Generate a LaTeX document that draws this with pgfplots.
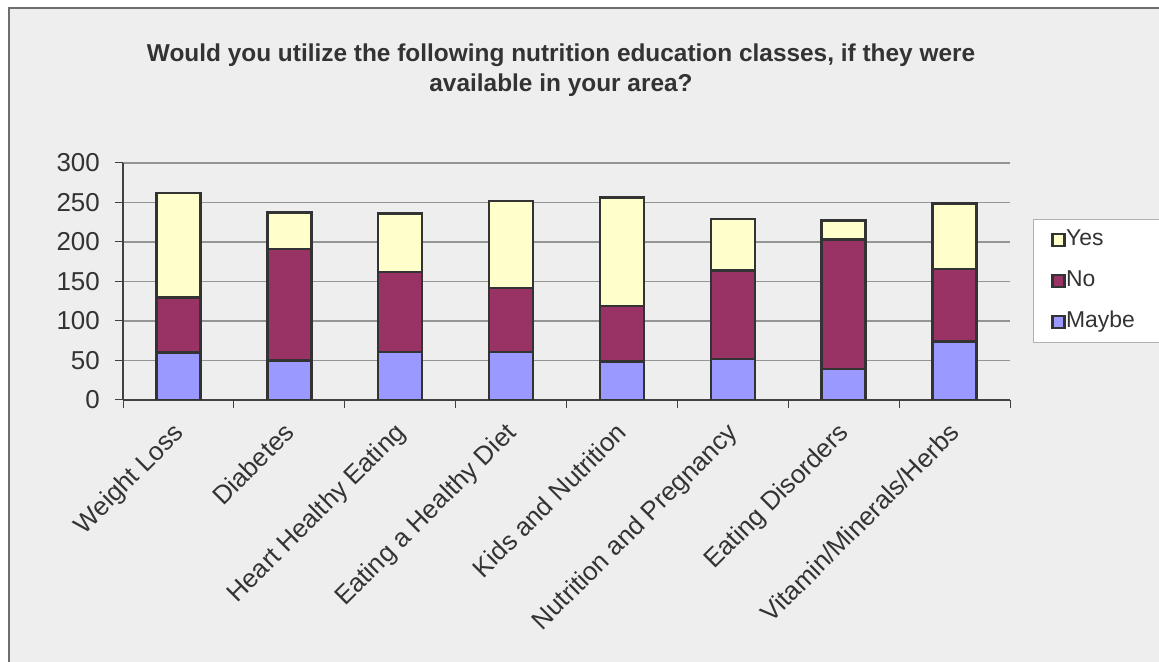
\documentclass[border=0pt]{standalone}
\usepackage{fontspec}
\setmainfont{Liberation Sans}
\usepackage{pgfplots}
\pgfplotsset{compat=1.18}
\definecolor{bgc}{HTML}{EEEEEE}
\definecolor{framec}{HTML}{6E6E6E}
\definecolor{maybec}{HTML}{9999FF}
\definecolor{noc}{HTML}{993366}
\definecolor{yesc}{HTML}{FFFFCC}
\definecolor{outc}{HTML}{333333}
\definecolor{gridc}{HTML}{959595}
\definecolor{axc}{HTML}{404040}
\definecolor{txt}{HTML}{333333}
\begin{document}
\begin{tikzpicture}[x=1bp,y=1bp]
\useasboundingbox (0,0) rectangle (1159,662);
\fill[white] (0,0) rectangle (1159,662);
\filldraw[fill=bgc,draw=framec,line width=1.5bp] (9,-20) rectangle (1200,654);
\node[font=\bfseries\fontsize{24.5}{30}\selectfont, text=txt, anchor=base] at (561,600) {Would you utilize the following nutrition education classes, if they were};
\node[font=\bfseries\fontsize{24.5}{30}\selectfont, text=txt, anchor=base] at (561,570) {available in your area?};
\begin{axis}[at={(123bp,262bp)}, anchor=south west, scale only axis,
  width=887bp, height=237bp,
  xmin=-0.5, xmax=7.5, ymin=0, ymax=300,
  ybar stacked, bar width=44bp,
  xtick={0,...,7},
  xticklabels={Weight Loss,Diabetes,Heart Healthy Eating,Eating a Healthy Diet,Kids and Nutrition,Nutrition and Pregnancy,Eating Disorders,Vitamin/Minerals/Herbs},
  minor xtick={-0.5,0.5,...,7.5},
  ytick={0,50,...,300},
  tick align=outside, major tick length=8bp, minor tick length=8bp,
  tick style={draw=axc, line width=1bp},
  major x tick style={draw=none},
  axis x line*=bottom, axis y line*=left,
  axis line style={draw=axc, line width=1.2bp, -},
  ymajorgrids, major grid style={draw=gridc, line width=1.1bp},
  ticklabel style={font=\fontsize{26}{30}\selectfont, text=txt},
  xticklabel style={xshift=-7bp, yshift=-13bp, rotate=45, anchor=north east, inner sep=0pt},
  yticklabel style={inner sep=0pt, xshift=-15bp},
  /pgf/number format/assume math mode=true,
  every axis plot/.append style={draw=outc, line width=2.6bp},
  reverse legend,
  legend style={at={(1.0259,0.7637)}, anchor=north west, draw=gray!60, line width=1bp, fill=white,
    font=\fontsize{23}{26}\selectfont, text=txt, inner xsep=18bp, inner ysep=10bp,
    row sep=20bp, nodes={inner sep=0pt, text height=16bp, text depth=5bp}},
  legend cell align=left,
  legend image code/.code={\draw[#1, draw=outc, line width=2.6bp] (1bp,-6bp) rectangle (13bp,6bp);},
  /tikz/every even column/.append style={column sep=6bp},
]
\addplot[fill=maybec] coordinates {(0,60) (1,50) (2,61) (3,61) (4,49) (5,52) (6,39) (7,74)};
\addplot[fill=noc] coordinates {(0,70) (1,141) (2,101) (3,81) (4,70) (5,112) (6,164) (7,92)};
\addplot[fill=yesc] coordinates {(0,132) (1,46) (2,74) (3,110) (4,137) (5,65) (6,24) (7,83)};
\legend{Maybe\kern30bp,No,Yes}
\end{axis}
\end{tikzpicture}
\end{document}
